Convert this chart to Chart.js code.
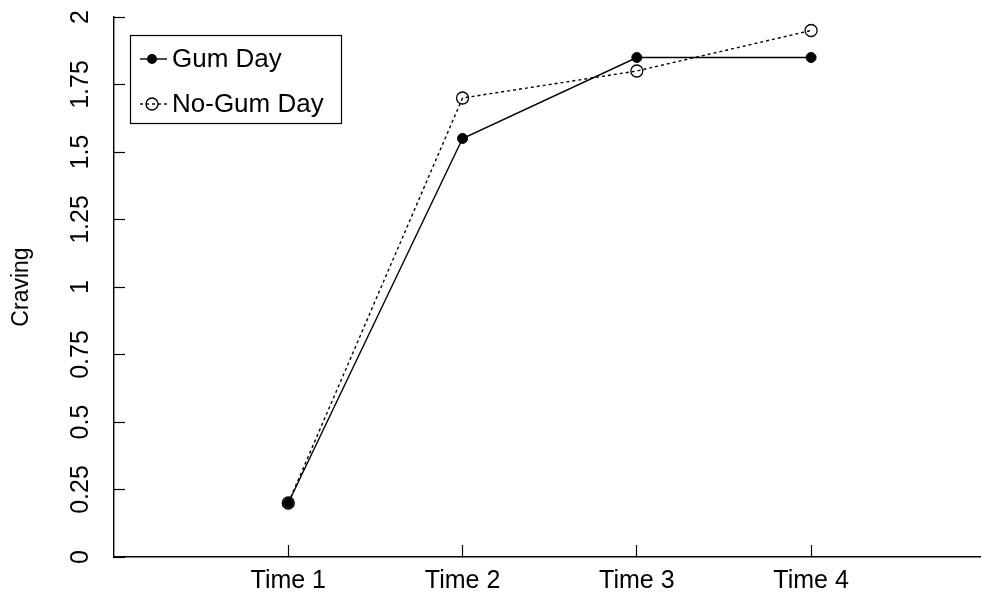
<!DOCTYPE html>
<html>
<head>
<meta charset="utf-8">
<script src="https://cdn.jsdelivr.net/npm/chart.js@4"></script>
<style>
  html, body { margin: 0; padding: 0; background: #fff; overflow: hidden; }
  #wrap { width: 981px; height: 598px; }
  canvas { display: block; }
</style>
</head>
<body>
<div id="wrap"><canvas id="chart"></canvas></div>
<script>
// data
const categories = ["Time 1", "Time 2", "Time 3", "Time 4"];
const gumDay = [0.2, 1.55, 1.85, 1.85];
const noGumDay = [0.2, 1.7, 1.8, 1.95];
const yTicks = [0, 0.25, 0.5, 0.75, 1, 1.25, 1.5, 1.75, 2];

const FONT = "'Liberation Sans', Arial, sans-serif";

const toPoints = (vals) => vals.map((v, i) => ({ x: i + 1, y: v }));

// legend drawn as a framed box inside the plot, like the original
const boxLegend = {
  id: "boxLegend",
  afterDraw(chart) {
    const c = chart.ctx;
    const rows = [59, 104];
    c.save();
    c.strokeStyle = "#000";
    c.lineWidth = 1.2;
    c.strokeRect(130.5, 35.5, 211, 88);
    chart.data.datasets.forEach((ds, i) => {
      const y = rows[i];
      c.beginPath();
      c.setLineDash(ds.borderDash || []);
      c.lineWidth = ds.borderWidth;
      c.moveTo(140, y);
      c.lineTo(167, y);
      c.stroke();
      c.setLineDash([]);
      c.beginPath();
      c.arc(152, y, ds.pointRadius, 0, Math.PI * 2);
      if (ds.pointBackgroundColor !== "rgba(0,0,0,0)") {
        c.fillStyle = ds.pointBackgroundColor;
        c.fill();
      } else {
        c.lineWidth = ds.pointBorderWidth;
        c.stroke();
      }
      c.fillStyle = "#000";
      c.font = "26px " + FONT;
      c.textBaseline = "middle";
      c.fillText(ds.label, 172, y + 1);
    });
    c.restore();
  },
};

new Chart(document.getElementById("chart"), {
  type: "line",
  data: {
    datasets: [
      {
        label: "Gum Day",
        data: toPoints(gumDay),
        borderColor: "#000",
        borderWidth: 1.4,
        pointRadius: 5,
        pointBackgroundColor: "#000",
        pointBorderColor: "#000",
        pointBorderWidth: 1,
        tension: 0,
      },
      {
        label: "No-Gum Day",
        data: toPoints(noGumDay),
        borderColor: "#000",
        borderWidth: 1.4,
        borderDash: [3, 3],
        pointRadius: 6,
        pointBackgroundColor: "rgba(0,0,0,0)",
        pointBorderColor: "#000",
        pointBorderWidth: 1.3,
        tension: 0,
      },
    ],
  },
  options: {
    responsive: true,
    maintainAspectRatio: false,
    animation: false,
    layout: { autoPadding: false, padding: { top: 17, right: 0, left: 0, bottom: 0 } },
    plugins: { legend: { display: false }, tooltip: { enabled: false } },
    scales: {
      x: {
        type: "linear",
        min: 0,
        max: 4.975,
        afterBuildTicks: (s) => {
          s.ticks = categories.map((_, i) => ({ value: i + 1 }));
        },
        afterFit: (s) => {
          s.height = 41;
          s.paddingLeft = 0;
          s.paddingRight = 0;
        },
        ticks: {
          color: "#000",
          font: { family: FONT, size: 25 },
          padding: 21,
          maxRotation: 0,
          autoSkip: false,
          callback: (v) => categories[v - 1],
        },
        grid: { drawOnChartArea: false, color: "#000", tickLength: -12, tickWidth: 1.2 },
        border: { display: true, color: "#000", width: 1.4 },
      },
      y: {
        min: 0,
        max: 2,
        afterBuildTicks: (s) => {
          s.ticks = yTicks.map((v) => ({ value: v }));
        },
        afterFit: (s) => {
          s.width = 114;
          s.paddingTop = 0;
          s.paddingBottom = 0;
        },
        ticks: {
          color: "#000",
          font: { family: FONT, size: 25 },
          minRotation: 90,
          maxRotation: 90,
          crossAlign: "center",
          padding: 20,
          autoSkip: false,
          callback: (v) => String(v),
        },
        title: {
          display: true,
          text: "Craving",
          color: "#000",
          font: { family: FONT, size: 23 },
          padding: { top: 8, bottom: 0 },
        },
        grid: { drawOnChartArea: false, color: "#000", tickLength: -11, tickWidth: 1.2 },
        border: { display: true, color: "#000", width: 1.4 },
      },
    },
  },
  plugins: [boxLegend],
});
</script>
</body>
</html>
